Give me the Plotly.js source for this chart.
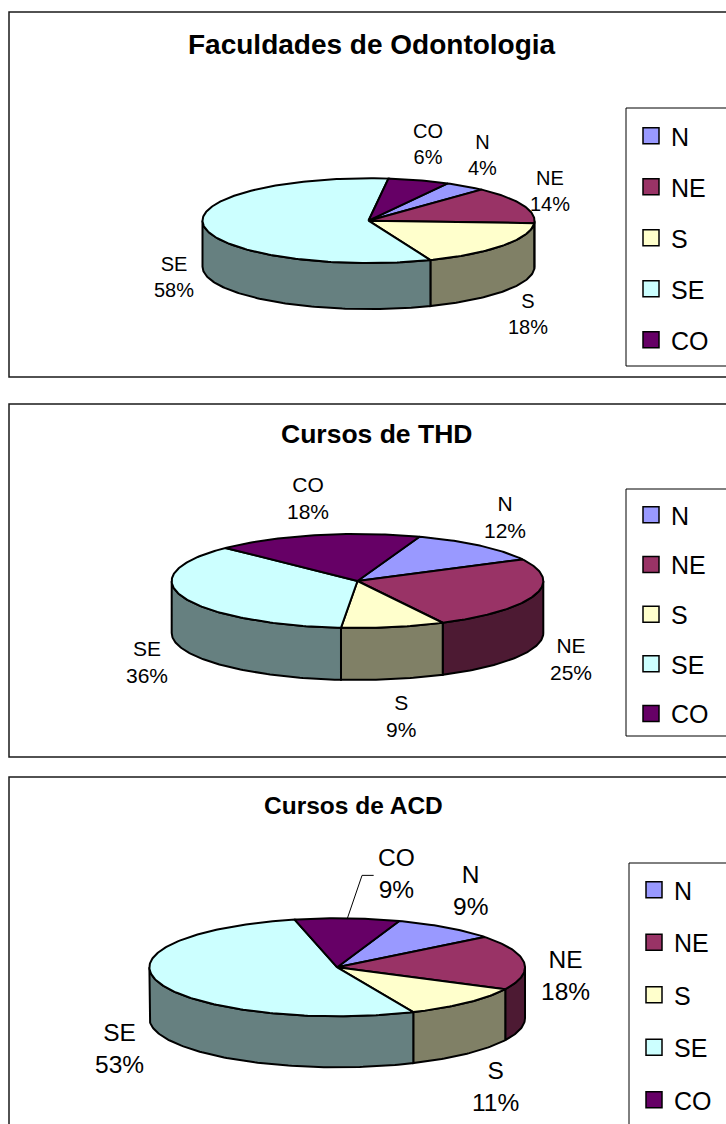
<!DOCTYPE html>
<html><head><meta charset="utf-8">
<script src="https://cdn.plot.ly/plotly-3.0.1.min.js"></script>
<style>html,body{margin:0;padding:0;background:#fff}</style>
</head><body><div id="chart" style="width:726px;height:1124px"></div>
<script>
// ---- data ----
const categories = ['N', 'NE', 'S', 'SE', 'CO'];
const valuesOdontologia = [4, 14, 18, 58, 6];
const valuesTHD = [12, 25, 9, 36, 18];
const valuesACD = [9, 18, 11, 53, 9];
const chartTitles = ['Faculdades de Odontologia', 'Cursos de THD', 'Cursos de ACD'];

// ---- style ----
const sliceColors = ['#9999FF', '#993366', '#FFFFCC', '#CCFFFF', '#660066'];
const FONT = 'Liberation Sans, Arial, sans-serif';
const charts = [
  {values: valuesOdontologia, title: chartTitles[0], frame: [9, 12, 760, 377],
   legendBox: [626, 108, 760, 366], legendLeft: 631, legendTop: 113, legendGap: 15.5,
   cx: 368.5, cy: 220.7, rx: 166, ry: 42.4, depth: 46, start: 28.5,
   labelFont: 20, gap: [30, 38], titleXY: [371.5, 44], titleSize: 28, dragged: {}},
  {values: valuesTHD, title: chartTitles[1], frame: [9, 404, 760, 757],
   legendBox: [626, 489, 760, 736], legendLeft: 631, legendTop: 492, legendGap: 14.2,
   cx: 357.5, cy: 581, rx: 185.8, ry: 47, depth: 52, start: 19.5,
   labelFont: 21, gap: [38, 38], titleXY: [376, 434], titleSize: 26.5, dragged: {}},
  {values: valuesACD, title: chartTitles[2], frame: [9, 777, 760, 1160],
   legendBox: [629, 863, 760, 1160], legendLeft: 634, legendTop: 867, legendGap: 17,
   cx: 337.2, cy: 967.3, rx: 187.8, ry: 49, depth: 51, start: 19.3,
   labelFont: 24.5, gap: [42, 45], titleXY: [353.5, 805], titleSize: 24.5,
   dragged: {4: {offset: [49, -45], leader: [[-22.7, 2], [-34.3, 2]]}}}
];

function darker(hex) {
  const n = parseInt(hex.slice(1), 16);
  const r = Math.round(((n >> 16) & 255) / 2), g = Math.round(((n >> 8) & 255) / 2), b = Math.round((n & 255) / 2);
  return `rgb(${r},${g},${b})`;
}
const rad = d => d * Math.PI / 180;
function pt(c, th, dy) {
  return [c.cx + c.rx * Math.sin(rad(th)), c.cy - c.ry * Math.cos(rad(th)) + (dy || 0)];
}
function arc(c, a0, a1, dy) {
  const n = Math.max(2, Math.ceil(Math.abs(a1 - a0)));
  const out = [];
  for (let k = 0; k <= n; k++) out.push(pt(c, a0 + (a1 - a0) * k / n, dy));
  return out;
}

const traces = [];
const shapes = [];
const annotations = [];
const layout = {
  width: 726, height: 1124, margin: {l: 0, r: 0, t: 0, b: 0},
  paper_bgcolor: 'white', plot_bgcolor: 'white', hovermode: false, showlegend: true,
  xaxis: {range: [0, 726], visible: false, fixedrange: true},
  yaxis: {range: [1124, 0], visible: false, fixedrange: true},
  shapes: shapes, annotations: annotations
};

charts.forEach((c, ci) => {
  const total = c.values.reduce((a, b) => a + b, 0);
  const legendId = ci === 0 ? 'legend' : 'legend' + (ci + 1);
  // frame & legend box
  shapes.push({type: 'rect', xref: 'x', yref: 'y', x0: c.frame[0], y0: c.frame[1], x1: c.frame[2], y1: c.frame[3],
    line: {color: '#1a1a1a', width: 1.5}, fillcolor: 'rgba(0,0,0,0)', layer: 'below'});
  shapes.push({type: 'rect', xref: 'x', yref: 'y', x0: c.legendBox[0], y0: c.legendBox[1], x1: c.legendBox[2], y1: c.legendBox[3],
    line: {color: '#000', width: 1}, fillcolor: 'white', layer: 'below'});
  // title
  annotations.push({xref: 'x', yref: 'y', x: c.titleXY[0], y: c.titleXY[1], text: '<b>' + c.title + '</b>',
    showarrow: false, xanchor: 'center', yanchor: 'middle', font: {family: FONT, size: c.titleSize, color: '#000'}});

  // angles (clockwise from 12 o'clock, rotated by c.start)
  let acc = c.start;
  const slices = c.values.map((v, i) => {
    const a0 = acc, a1 = acc + v / total * 360;
    acc = a1;
    return {i, a0, a1, v};
  });
  // side walls (visible front half)
  slices.forEach(s => {
    const t0 = Math.max(s.a0, 90), t1 = Math.min(s.a1, 270);
    if (t1 > t0) {
      const poly = arc(c, t0, t1, 0).concat(arc(c, t1, t0, c.depth));
      poly.push(poly[0]);
      traces.push({type: 'scatter', mode: 'lines', x: poly.map(p => p[0]), y: poly.map(p => p[1]),
        fill: 'toself', fillcolor: darker(sliceColors[s.i]), line: {color: '#000', width: 2},
        showlegend: false, hoverinfo: 'skip'});
    }
  });
  // top faces
  slices.forEach(s => {
    const poly = [[c.cx, c.cy]].concat(arc(c, s.a0, s.a1, 0));
    poly.push([c.cx, c.cy]);
    traces.push({type: 'scatter', mode: 'lines', x: poly.map(p => p[0]), y: poly.map(p => p[1]),
      fill: 'toself', fillcolor: sliceColors[s.i], line: {color: '#000', width: 2},
      showlegend: false, hoverinfo: 'skip'});
  });
  // data labels
  slices.forEach(s => {
    const mid = (s.a0 + s.a1) / 2;
    const pct = Math.round(s.v / total * 100);
    const text = categories[s.i] + '<br>' + pct + '%';
    let lx, ly;
    const drag = c.dragged[s.i];
    if (drag) {
      const p = pt(c, mid, 0);
      lx = p[0] + drag.offset[0]; ly = p[1] + drag.offset[1];
      const line = [p].concat(drag.leader.slice().reverse().map(o => [lx + o[0], ly + o[1]]));
      traces.push({type: 'scatter', mode: 'lines', x: line.map(q => q[0]), y: line.map(q => q[1]),
        line: {color: '#000', width: 1}, showlegend: false, hoverinfo: 'skip'});
    } else {
      const sn = Math.sin(rad(mid)), cs = Math.cos(rad(mid));
      const depthShare = cs < 0 ? 1 : Math.max(0, 0.5 - 1.5 * cs);
      lx = c.cx + (c.rx + c.gap[0]) * sn;
      ly = c.cy - (c.ry + c.gap[1]) * cs + depthShare * c.depth;
    }
    annotations.push({xref: 'x', yref: 'y', x: lx, y: ly, text: text, showarrow: false,
      xanchor: 'center', yanchor: 'middle', align: 'center',
      font: {family: FONT, size: c.labelFont, color: '#000'}});
  });
  // legend entries
  categories.forEach((cat, i) => {
    traces.push({type: 'scatter', mode: 'markers', x: [null], y: [null], name: cat,
      legend: legendId, legendgroup: 'c' + ci + cat, showlegend: true, hoverinfo: 'skip',
      marker: {symbol: 'square', size: 16, color: sliceColors[i], line: {color: '#000', width: 1.5}}});
  });
  layout[legendId] = {
    x: c.legendLeft / 726, xanchor: 'left', y: 1 - c.legendTop / 1124, yanchor: 'top',
    bgcolor: 'rgba(0,0,0,0)', borderwidth: 0, tracegroupgap: c.legendGap,
    font: {family: FONT, size: 25, color: '#000'}, itemclick: false, itemdoubleclick: false
  };
});

Plotly.newPlot('chart', traces, layout, {displayModeBar: false, staticPlot: true});
</script>
</body></html>
